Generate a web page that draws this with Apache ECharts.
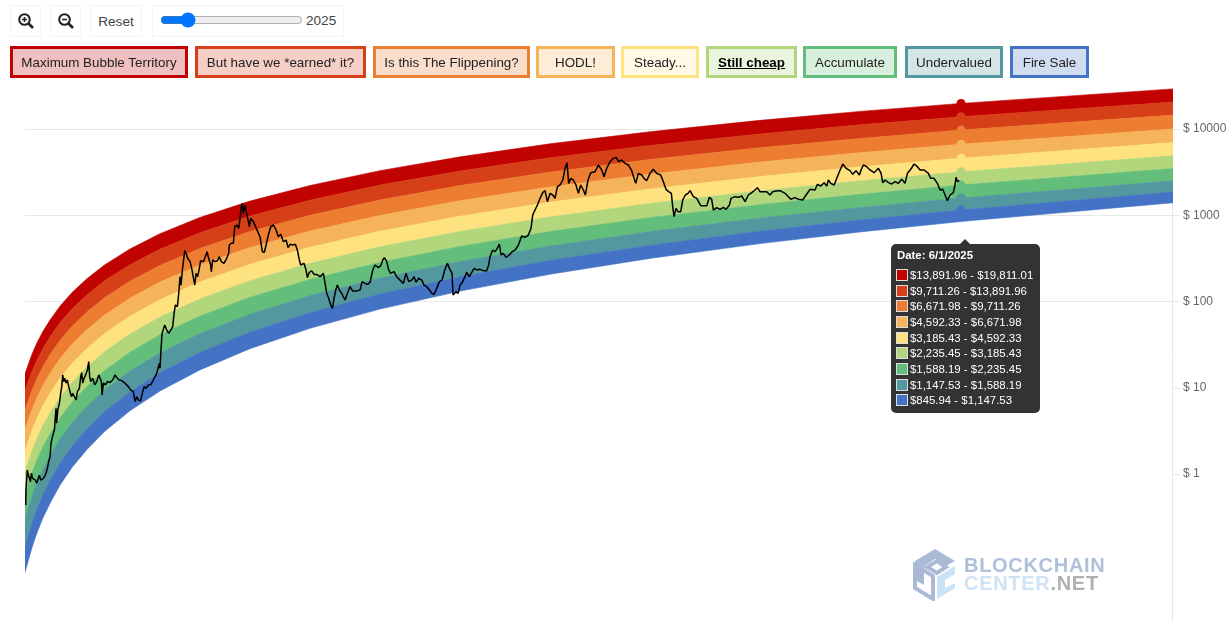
<!DOCTYPE html>
<html>
<head>
<meta charset="utf-8">
<script src="https://cdn.jsdelivr.net/npm/echarts@6/dist/echarts.min.js"></script>
<style>
html,body{margin:0;padding:0;background:#fff;width:1231px;height:622px;overflow:hidden;font-family:"Liberation Sans",Arial,sans-serif;}
#chart{position:absolute;left:0;top:0;width:1231px;height:680px;}
.tool{position:absolute;top:5px;height:32px;box-sizing:border-box;border:1px solid #f4f4f4;background:#fff;color:#444;font-size:13.6px;display:flex;align-items:center;justify-content:center;z-index:5;}
.legend{position:absolute;top:46px;height:32px;box-sizing:border-box;border-width:3px;border-style:solid;font-size:13.4px;color:#222;display:flex;align-items:center;justify-content:center;z-index:5;white-space:nowrap;}
input[type=range]{position:absolute;left:7px;top:6px;width:143px;margin:0;}
#mark{position:absolute;left:913px;top:547px;width:195px;height:54px;z-index:2;}
#mark div{position:absolute;left:51px;font-weight:bold;font-size:20px;line-height:20px;letter-spacing:.7px;white-space:nowrap;}
</style>
</head>
<body>
<div id="chart"></div>
<div class="tool" style="left:10px;width:31px"><svg width="18" height="18" viewBox="0 0 18 18"><circle cx="7.5" cy="7.5" r="5.3" fill="none" stroke="#222" stroke-width="2"/><path d="M11.5 11.5L16 16" stroke="#222" stroke-width="2.6"/><path d="M5 7.5h5M7.5 5v5" stroke="#222" stroke-width="1.6"/></svg></div>
<div class="tool" style="left:50px;width:31px"><svg width="18" height="18" viewBox="0 0 18 18"><circle cx="7.5" cy="7.5" r="5.3" fill="none" stroke="#222" stroke-width="2"/><path d="M11.5 11.5L16 16" stroke="#222" stroke-width="2.6"/><path d="M5 7.5h5" stroke="#222" stroke-width="1.6"/></svg></div>
<div class="tool" style="left:90px;width:52px">Reset</div>
<div class="tool" style="left:152px;width:192px;display:block"><input type="range" min="0" max="100" value="16"><span style="position:absolute;left:153px;top:7px">2025</span></div>
<div id="legendRow"></div>
<div id="mark">
<svg width="44" height="54" viewBox="0 0 44 54" style="position:absolute;left:0;top:0">
<path d="M2 14L22 2L42 14L33 19L22 12L11 19L11 38L2 33Z" fill="#a9b9d6"/>
<path d="M14 20L24 14L33 20L24 26Z" fill="none" stroke="#a9b9d6" stroke-width="4"/>
<path d="M2 18L20 29L20 52L2 41Z" fill="none" stroke="#a9b9d6" stroke-width="4"/>
<path d="M24 30L42 19L42 27L32 33L32 41L42 36L42 41L24 52Z" fill="#c9e2f5"/>
</svg>
<div style="top:8px;color:#b0c0da">BLOCKCHAIN</div>
<div style="top:26px;color:#cfe3f4">CENTER<span style="color:#b0b0b0">.NET</span></div>
</div>
<script>
const legendLabels = ["Maximum Bubble Territory","But have we *earned* it?","Is this The Flippening?","HODL!","Steady...","Still cheap","Accumulate","Undervalued","Fire Sale"];
const bandColors = ["#c00200","#d64018","#ed7d31","#f6b45a","#fee27f","#b1d67c","#63be7b","#54989f","#4472c4"];
const yTickValues = [1,10,100,1000,10000];
const tooltipDate = "6/1/2025";
const tooltipRanges = ["$13,891.96 - $19,811.01","$9,711.26 - $13,891.96","$6,671.98 - $9,711.26","$4,592.33 - $6,671.98","$3,185.43 - $4,592.33","$2,235.45 - $3,185.43","$1,588.19 - $2,235.45","$1,147.53 - $1,588.19","$845.94 - $1,147.53"];
const markerTops = [19811.01,13891.96,9711.26,6671.98,4592.33,3185.43,2235.45,1588.19,1147.53];

const bandDates = ["2015-08-07","2015-09-03","2015-09-22","2015-10-15","2015-11-11","2015-12-19","2016-02-03","2016-04-01","2016-06-08","2016-09-12","2017-01-05","2017-06-07","2017-12-16","2018-08-03","2019-04-28","2020-02-29","2021-02-07","2022-02-25","2023-04-23","2024-05-10","2025-06-01","2027-08-22"];
const edge0 = [14.5,24.7,33.2,45.2,61.1,88.3,127,184.5,267,406,611,942,1459,2213,3289,4753,6730,9290,12590,16000,19811.01,29170];
const edge1 = [9.2,15.5,20.9,28.6,39.0,56.6,81.8,119.7,174.6,267,403,628,979,1496,2239,3258,4634,6442,8770,11170,13891.96,20560];
const edge2 = [5.5,9.4,12.8,17.6,24.2,35.3,51.4,75.9,111.4,172,262,412,647,998,1503,2208,3162,4426,6067,7762,9711.26,14490];
const edge3 = [3.3,5.6,7.7,10.7,14.7,21.7,31.8,47.3,70,109,168,265,422,655,995,1476,2123,2992,4130,5321,6671.98,10020];
const edge4 = [1.85,3.22,4.46,6.21,8.63,12.9,19.1,28.6,42.9,67.5,105,168,270,425,653,975,1419,2018,2805,3639,4592.33,6982];
const edge5 = [1.05,1.86,2.59,3.64,5.11,7.67,11.5,17.5,26.4,42,66,107,174,277,431,650,955,1371,1923,2506,3185.43,4898];
const edge6 = [.575,1.04,1.46,2.07,2.93,4.47,6.78,10.4,15.9,25.8,41.1,67.6,112,180,284,435,646,938,1327,1746,2235.45,3476];
const edge7 = [.303,.557,.794,1.14,1.64,2.54,3.91,6.10,9.46,15.6,25.3,42.5,71.3,117,187,291,440,646,927,1230,1588.19,2512];
const edge8 = [.143,.270,.392,.575,.839,1.33,2.09,3.33,5.30,8.93,14.9,25.6,44.1,74.3,122,193,298,447,652,879,1147.53,1858];
const edge9 = [.0726,.141,.208,.310,.459,.741,1.19,1.93,3.13,5.40,9.16,16.1,28.4,48.9,81.7,132,207,316,469,640,845.94,1396];
const bandEdges = [edge0,edge1,edge2,edge3,edge4,edge5,edge6,edge7,edge8,edge9];

const priceYears = [
2015.605,2015.608,2015.615,2015.622,2015.633,2015.643,2015.654,2015.664,2015.678,2015.692,2015.706,2015.720,2015.734,2015.748,2015.762,2015.776,2015.790,2015.811,2015.832,2015.846,2015.860,2015.871,2015.881,2015.895,2015.906,2015.916,2015.923,2015.930,2015.941,2015.958,2015.972,2015.983,2015.993,
2016.004,2016.014,2016.028,2016.042,2016.056,2016.070,2016.084,2016.098,2016.112,2016.133,2016.147,2016.168,2016.182,2016.192,2016.203,2016.217,2016.234,2016.252,2016.266,2016.276,2016.287,2016.308,2016.329,2016.350,2016.371,2016.385,2016.399,2016.406,2016.420,2016.441,2016.462,2016.489,2016.517,2016.542,2016.566,2016.587,2016.612,2016.647,2016.682,2016.706,2016.734,2016.752,2016.769,2016.787,2016.811,2016.832,2016.846,2016.867,2016.892,2016.916,2016.944,2016.961,2016.979,2016.993,
2017.007,2017.014,2017.024,2017.035,2017.049,2017.063,2017.084,2017.105,2017.126,2017.147,2017.161,2017.175,2017.196,2017.210,2017.224,2017.234,2017.248,2017.259,2017.273,2017.287,2017.304,2017.329,2017.346,2017.364,2017.378,2017.392,2017.409,2017.426,2017.440,2017.468,2017.489,2017.507,2017.524,2017.545,2017.552,2017.566,2017.591,2017.615,2017.636,2017.657,2017.685,2017.713,2017.734,2017.741,2017.762,2017.783,2017.797,2017.818,2017.839,2017.853,2017.867,2017.877,2017.888,2017.905,2017.923,2017.937,2017.951,2017.965,2017.993,2018.013,2018.063,
2018.087,2018.108,2018.126,2018.150,2018.175,2018.203,2018.231,2018.255,2018.280,2018.308,2018.336,2018.357,2018.378,2018.406,2018.433,2018.454,2018.475,2018.489,2018.524,2018.545,2018.559,2018.580,2018.605,2018.629,2018.657,2018.692,2018.727,2018.745,2018.762,2018.783,2018.804,2018.822,2018.839,2018.857,2018.874,2018.895,2018.919,2018.954,2018.979,
2019.007,2019.035,2019.070,2019.112,2019.133,2019.164,2019.192,2019.217,2019.245,2019.269,2019.304,2019.329,2019.350,2019.367,2019.392,2019.412,2019.433,2019.468,2019.496,2019.531,2019.566,2019.594,2019.622,2019.654,2019.678,2019.699,2019.727,2019.759,2019.783,2019.811,2019.839,2019.867,2019.888,2019.916,2019.944,2019.972,
2020.000,2020.028,2020.049,2020.077,2020.087,2020.098,2020.119,2020.140,2020.161,2020.185,2020.213,2020.230,2020.258,2020.266,2020.308,2020.336,2020.370,2020.405,2020.440,2020.461,2020.475,2020.503,2020.528,2020.545,2020.573,2020.591,2020.615,2020.643,2020.678,2020.706,2020.738,2020.773,2020.807,2020.842,2020.877,2020.905,2020.923,2020.947,2020.972,
2021.000,2021.028,2021.052,2021.077,2021.105,2021.133,2021.157,2021.182,2021.210,2021.238,2021.262,2021.283,2021.300,2021.322,2021.349,2021.377,2021.402,2021.426,2021.454,2021.475,2021.503,2021.531,2021.577,2021.612,2021.647,2021.671,2021.699,2021.734,2021.769,2021.797,2021.825,2021.856,2021.891,2021.926,2021.961,2021.986,
2022.003,2022.031,2022.066,2022.090,2022.118,2022.153,2022.188,2022.223,2022.265,2022.293,2022.321,2022.349,2022.377,2022.391,2022.405,2022.426,2022.447,2022.475,2022.496,2022.524,2022.552,2022.573,2022.608,2022.643,2022.685,2022.748,2022.776,2022.800,2022.818,2022.853,2022.888,2022.923,2022.951,2022.986,
2023.003,2023.045,2023.080,2023.115,2023.150,2023.185,2023.220,2023.255,2023.279,2023.307,2023.342,2023.377,2023.412,2023.440,2023.475,2023.517,2023.570,2023.605,2023.629,2023.674,2023.709,2023.755,2023.790,2023.832,2023.884,2023.909,2023.944,2023.979,
2024.007,2024.024,2024.049,2024.084,2024.112,2024.147,2024.175,2024.210,2024.251,2024.279,2024.314,2024.349,2024.374,2024.391,2024.426,2024.461,2024.503,2024.549,2024.577,2024.594,2024.619,2024.654,2024.688,2024.723,2024.758,2024.793,2024.828,2024.853,2024.888,2024.923,2024.958,2024.986,
2025.028,2025.073,2025.097,2025.132,2025.167,2025.195,2025.223,2025.248,2025.272,2025.300,2025.335,2025.352,2025.363,2025.377,2025.398];
const priceUsd = [
.437,.652,.852,1.11,.973,1.02,.815,1.02,.89,.93,.85,.78,.745,.97,.85,.815,.89,.97,1.16,1.39,1.59,2.27,2.59,2.48,3.24,4.62,5.77,3.87,5.52,6.59,8.61,10.3,14.1,
11.8,12.9,11.3,12.3,10.3,9.84,7.88,8.61,8.24,7.21,9.0,9.84,13.4,15.0,11.3,12.9,14.1,16.1,20.1,13.4,11.8,12.9,10.8,11.8,14.1,12.9,11.8,8.24,11.3,10.8,11.8,11.5,12.3,14.1,12.9,12.3,12.1,11.3,10.3,9.42,9.0,6.9,7.88,7.21,7.08,9.0,10.3,9.84,10.8,10.8,12.3,11.8,14.7,16.8,
19.2,16.8,27.4,42.7,44.7,53.4,46.7,42.7,46.7,51.1,72.9,91.1,87.1,124,194,155,232,290,389,362,317,290,242,232,155,212,194,242,297,290,331,378,317,265,222,303,290,297,331,290,277,317,362,452,473,473,737,771,705,921,1258,1375,1053,1315,1053,1100,737,921,843,843,560,
378,372,452,590,737,771,675,565,601,494,516,421,460,452,460,396,303,265,277,232,189,218,226,206,206,194,212,162,124,109,91,83.3,109,136,155,136,124,104,124,
149,132,132,136,170,162,158,167,232,265,247,260,303,322,290,232,212,222,194,177,162,212,170,177,194,167,186,177,155,149,136,124,121,142,170,177,
232,277,242,212,119,114,130,124,155,167,194,218,194,203,242,232,236,228,228,265,331,395,378,402,464,346,362,325,346,378,395,452,574,554,590,705,1006,1150,1315,
1571,1827,1928,1437,1795,1717,1571,2145,2243,2563,3498,4070,2344,2679,2563,2243,1795,2243,1962,1717,2563,3117,3201,3825,3347,2801,3498,4180,4570,4694,4180,4372,3999,3825,3288,2679,
2344,3062,2929,2679,2517,3062,3407,3062,2929,2451,1997,1876,1795,1257,963,1203,1100,1100,1502,1717,1795,1928,1642,1571,1292,1292,1613,1530,1150,1224,1171,1235,1171,1315,
1571,1642,1613,1672,1437,1717,1827,1963,2088,1876,1876,1876,1717,1876,1911,1928,1795,1642,1530,1599,1530,1502,1717,1998,1963,2283,2183,2387,
2183,2564,2344,2243,2679,3347,3930,3499,3288,2981,3288,2929,3499,3825,3658,3347,3117,3499,3062,2387,2564,2387,2303,2451,2344,2609,2344,3062,3407,3930,3658,3347,
3347,3062,2679,2679,2344,1963,1998,1717,1476,1717,1827,2243,2751,2451,2518];

const axisStart = "2015-08-07", axisEnd = "2027-08-22", markerDate = "2025-06-01";
const ms = s => Date.parse(s + "T00:00:00Z");
const yearMs = y => Date.UTC(2000,0,1) + (y - 2000) * 365.25 * 864e5;

// legend row
const legendBoxes = [[10,178],[195,171],[373,157],[536,79],[621,78],[706,91],[803,94],[905,98],[1010,79]];
const hexRgba = (h,a) => "rgba(" + [1,3,5].map(i => parseInt(h.substr(i,2),16)).join(",") + "," + a + ")";
const row = document.getElementById("legendRow");
legendLabels.forEach((t,i) => {
  const d = document.createElement("div");
  d.className = "legend"; d.textContent = t;
  d.style.left = legendBoxes[i][0] + "px"; d.style.width = legendBoxes[i][1] + "px";
  d.style.borderColor = bandColors[i]; d.style.background = hexRgba(bandColors[i], i===4 ? .2 : .25);
  if (t === "Still cheap") { d.style.fontWeight = "bold"; d.style.textDecoration = "underline"; d.style.color = "#000"; }
  row.appendChild(d);
});

const bandSeries = bandColors.map((c,k) => ({
  type:"custom", silent:true, z:2, clip:true,
  encode:{x:0,y:[1,2]},
  data: bandDates.map((d,i) => [ms(d), bandEdges[k][i], bandEdges[k+1][i]]),
  renderItem(params, api){
    if (params.dataIndex !== 0) return null;
    const up = bandDates.map((d,i) => api.coord([ms(d), bandEdges[k][i]]));
    const lo = bandDates.map((d,i) => api.coord([ms(d), bandEdges[k+1][i]])).reverse();
    return {type:"polygon", shape:{points: up.concat(lo)}, style:{fill:c, stroke:c, lineWidth:.6}};
  }
}));

const tipHtml = '<div style="position:relative;width:149px;height:169px;background:#333;border-radius:5px;color:#fff;font:11.4px \'Liberation Sans\',Arial,sans-serif;box-sizing:border-box;">'
 + '<div style="position:absolute;left:69px;top:-5px;width:0;height:0;border-left:5px solid transparent;border-right:5px solid transparent;border-bottom:5px solid #333"></div>'
 + '<div style="position:absolute;left:6px;top:4px;font-weight:bold;line-height:14px;white-space:nowrap;">Date: ' + tooltipDate + '</div>'
 + tooltipRanges.map((t,i) => '<div style="position:absolute;left:5px;top:' + (25 + i*15.65) + 'px;width:10px;height:10px;background:' + bandColors[i] + ';border:1px solid #ddd"></div>'
 + '<div style="position:absolute;left:19px;top:' + (24 + i*15.65) + 'px;line-height:14px;white-space:nowrap;">' + t + '</div>').join("")
 + '</div>';

const chart = echarts.init(document.getElementById("chart"), null, {renderer:"canvas"});
chart.setOption({
  animation:false,
  backgroundColor:"#fff",
  grid:{left:25, right:58, top:42.75, height:603.75, containLabel:false},
  tooltip:{trigger:"item", triggerOn:"none", alwaysShowContent:true, transitionDuration:0, confine:false,
    padding:0, borderWidth:0, backgroundColor:"transparent", extraCssText:"box-shadow:none;",
    position:[891,244], formatter:() => tipHtml},
  xAxis:{type:"time", min:ms(axisStart), max:ms(axisEnd), show:false},
  yAxis:{type:"log", position:"right", min:.01, max:100000, logBase:10,
    axisLine:{show:false},
    axisTick:{show:true, length:7, lineStyle:{color:"#e8e8e8"}, customValues:yTickValues},
    minorTick:{show:false},
    axisLabel:{color:"#666", fontSize:12, fontFamily:"Liberation Sans", margin:10, customValues:yTickValues, formatter:v => "$ " + v},
    splitLine:{show:true, lineStyle:{color:["transparent","transparent","#e8e8e8","#e8e8e8","#e8e8e8","#e8e8e8","#e8e8e8","transparent"], width:1}}},
  series:[...bandSeries,
    {type:"scatter", z:3, symbolSize:9, emphasis:{disabled:true}, data:markerTops.map((v,i) => ({value:[ms(markerDate), v], itemStyle:{color:bandColors[i], opacity:1}}))},
    {type:"line", z:4, showSymbol:false, symbol:"none", sampling:undefined, lineStyle:{color:"#000", width:1.5}, silent:true,
      data:priceYears.map((y,i) => [yearMs(y), priceUsd[i]])}
  ],
  graphic:[{type:"line", silent:true, z:1, shape:{x1:1172.5,y1:89,x2:1172.5,y2:622}, style:{stroke:"#e8e8e8", lineWidth:1}}]
});
chart.dispatchAction({type:"showTip", seriesIndex:bandColors.length, dataIndex:0});
</script>
</body>
</html>
